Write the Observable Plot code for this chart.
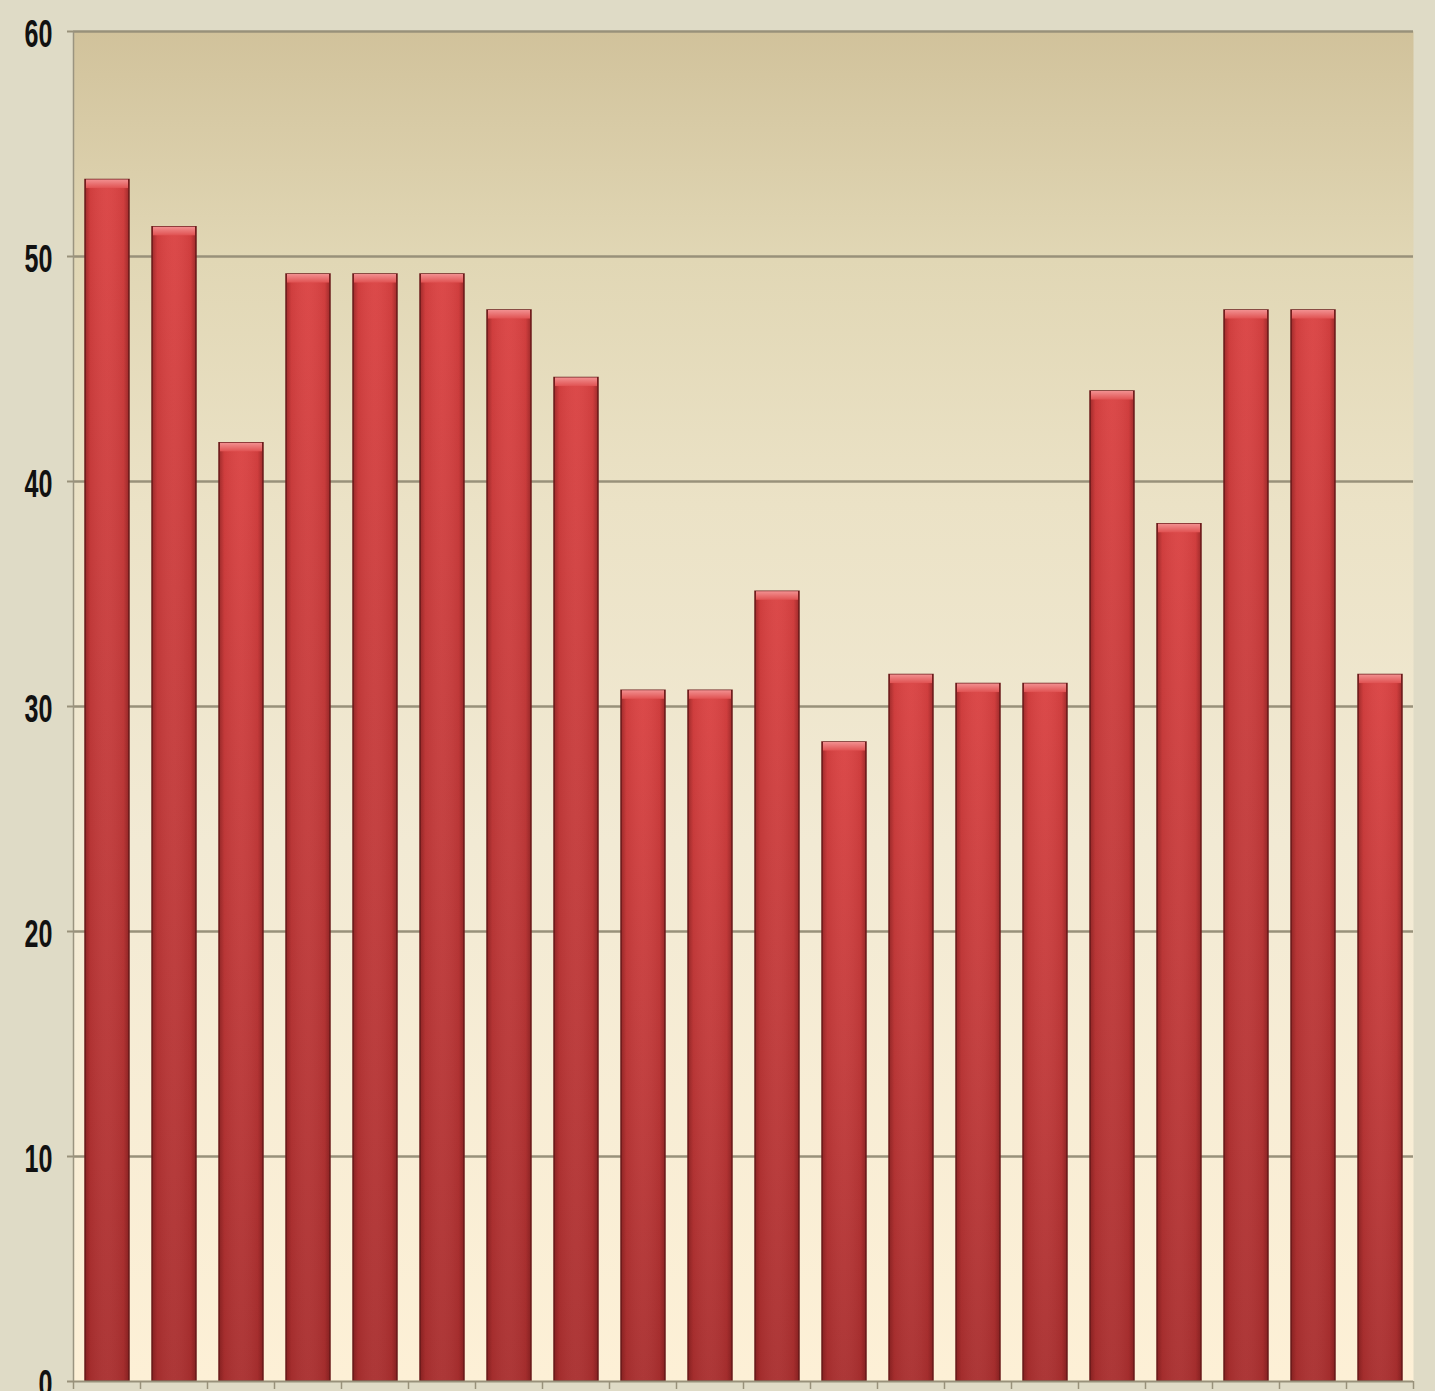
<!DOCTYPE html>
<html>
<head>
<meta charset="utf-8">
<script src="https://cdn.jsdelivr.net/npm/d3@7"></script>
<script src="https://cdn.jsdelivr.net/npm/@observablehq/plot@0.6"></script>
<style>
  html, body { margin: 0; padding: 0; background: #dfdbc6; overflow: hidden; }
  #chart svg { display: block; }
</style>
</head>
<body>
<div id="chart"></div>
<script>
// Data
const categories = Array.from({length: 20}, (_, i) => i); // 20 unlabeled categories
const values = [53.4, 51.3, 41.7, 49.2, 49.2, 49.2, 47.6, 44.6, 30.7, 30.7,
                35.1, 28.4, 31.4, 31.0, 31.0, 44.0, 38.1, 47.6, 47.6, 31.4];
const yTicks = [0, 10, 20, 30, 40, 50, 60];

const data = categories.map((c, i) => ({i: c, v: values[i]}));

const defs = () => {
  const ns = "http://www.w3.org/2000/svg";
  const g = document.createElementNS(ns, "defs");
  g.innerHTML = `
    <linearGradient id="bg" x1="0" y1="0" x2="0" y2="1">
      <stop offset="0" stop-color="#d1c29b"/>
      <stop offset="0.17" stop-color="#e1d7b5"/>
      <stop offset="0.35" stop-color="#ebe2c6"/>
      <stop offset="0.6" stop-color="#f2ead4"/>
      <stop offset="1" stop-color="#fdf0d6"/>
    </linearGradient>
    <linearGradient id="barV" x1="0" y1="0" x2="0" y2="1">
      <stop offset="0" stop-color="#da4242"/>
      <stop offset="0.5" stop-color="#c23a3a"/>
      <stop offset="1" stop-color="#a92f2f"/>
    </linearGradient>
    <linearGradient id="barH" x1="0" y1="0" x2="1" y2="0">
      <stop offset="0" stop-color="#5a1010" stop-opacity="0.45"/>
      <stop offset="0.12" stop-color="#5a1010" stop-opacity="0.08"/>
      <stop offset="0.5" stop-color="#ffffff" stop-opacity="0.04"/>
      <stop offset="0.88" stop-color="#5a1010" stop-opacity="0.08"/>
      <stop offset="1" stop-color="#5a1010" stop-opacity="0.45"/>
    </linearGradient>
    <linearGradient id="bevel" x1="0" y1="0" x2="0" y2="1">
      <stop offset="0" stop-color="#f29090"/>
      <stop offset="1" stop-color="#e05252"/>
    </linearGradient>`;
  return g;
};

const plot = Plot.plot({
  width: 1435,
  height: 1391,
  marginLeft: 73,
  marginTop: 31,
  marginRight: 22,
  marginBottom: 10,
  style: {background: "transparent", overflow: "visible"},
  x: {domain: [0, 20], axis: null, label: null},
  y: {domain: [0, 60], axis: null, label: null},
  marks: [
    defs,
    Plot.frame({fill: "url(#bg)", stroke: null}),
    Plot.ruleY(yTicks.filter(t => t > 0), {stroke: "#98917a", strokeWidth: 2.5, x1: 0, x2: 20}),
    Plot.axisY({ticks: yTicks, tickSize: 6, tickPadding: 15, stroke: "#98917a", strokeWidth: 2, label: null,
      className: "ylab", fontSize: 38, fontWeight: "bold", fill: "#111",
      fontFamily: "'Liberation Sans', Arial, sans-serif"}),
    Plot.ruleX([0], {stroke: "#9a9480", strokeWidth: 1.5}),
    Plot.axisX({ticks: d3.range(0, 21), tickSize: 8, tickFormat: () => "", label: null, stroke: "#98917a", strokeWidth: 1.5}),
    Plot.rectY(data, {x1: "i", x2: d => d.i + 1, y: "v", insetLeft: 12, insetRight: 11,
      fill: "url(#barV)", stroke: "#6e1e1e", strokeWidth: 1.5}),
    Plot.rectY(data, {x1: "i", x2: d => d.i + 1, y: "v", insetLeft: 12, insetRight: 11,
      fill: "url(#barH)"}),
    Plot.rectY(data, {x1: "i", x2: d => d.i + 1, y1: d => d.v - 0.38, y2: "v", insetLeft: 13, insetRight: 12,
      fill: "url(#bevel)"}),
    Plot.ruleY([0], {x1: 0, x2: 20, stroke: "#98917a", strokeWidth: 2})
  ]
});
// condense the y tick labels horizontally (narrow bold face in the reference)
plot.querySelectorAll(".ylab text").forEach(t => {
  const tr = t.getAttribute("transform") || "";
  t.setAttribute("transform", `${tr} translate(0,3) scale(0.66,1)`);
});
document.getElementById("chart").appendChild(plot);
</script>
</body>
</html>
